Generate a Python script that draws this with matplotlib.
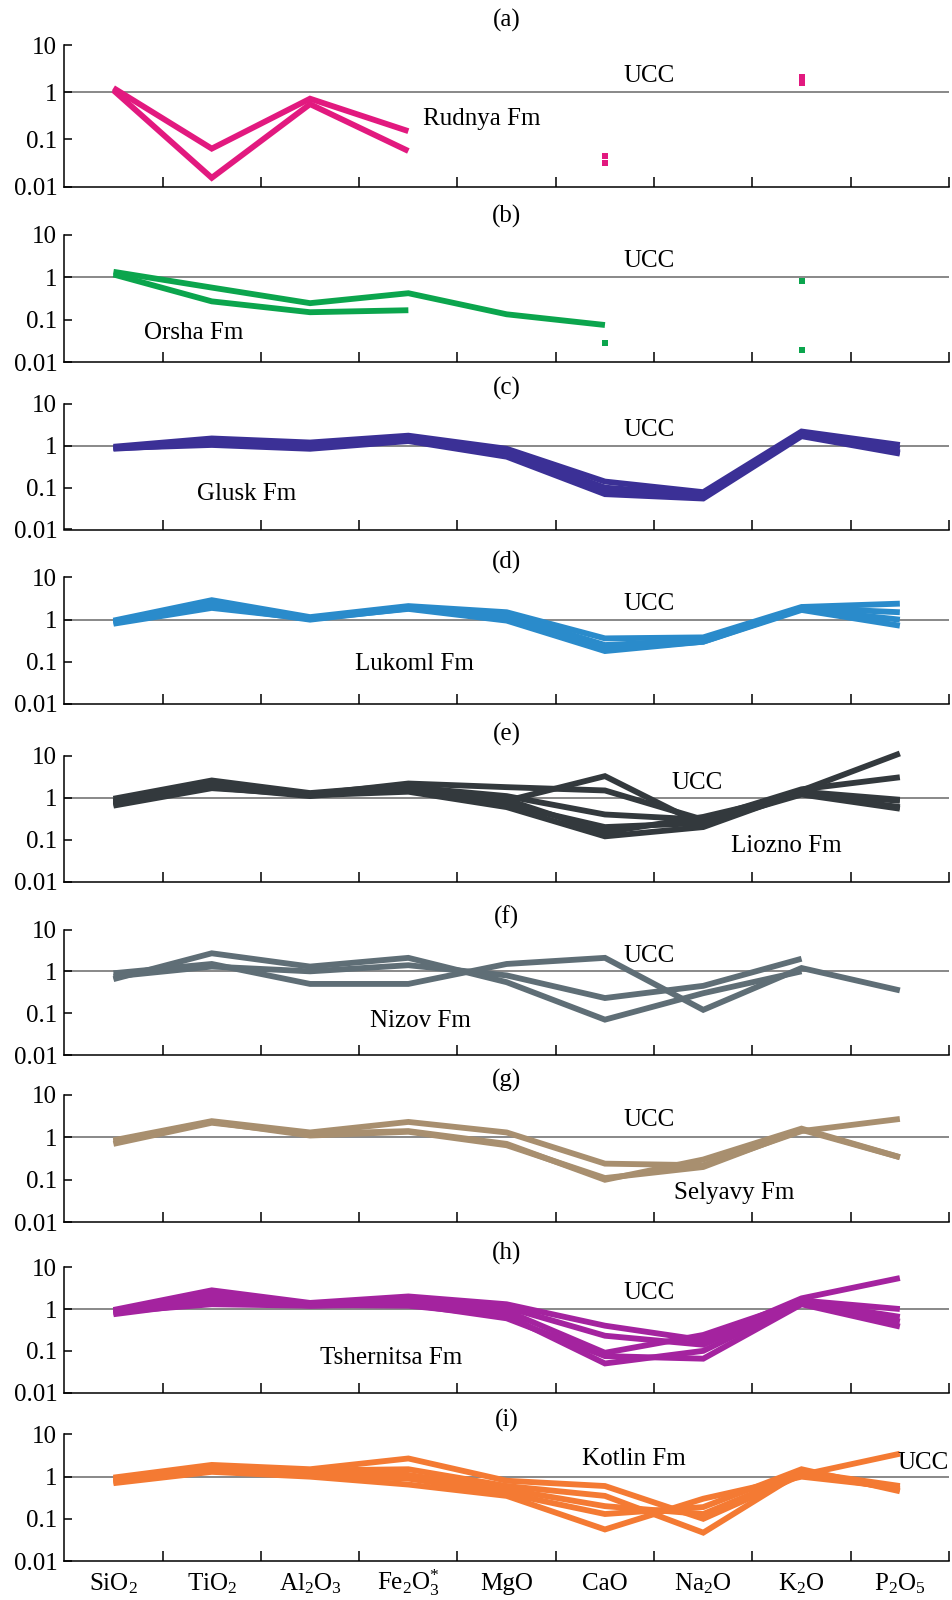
import numpy as np
import matplotlib
matplotlib.use("Agg")
import matplotlib.pyplot as plt

plt.rcParams['font.family'] = ['Liberation Serif', 'DejaVu Serif']
plt.rcParams['mathtext.fontset'] = 'custom'
plt.rcParams['mathtext.rm'] = 'Liberation Serif'
plt.rcParams['mathtext.it'] = 'Liberation Serif:italic'
plt.rcParams['mathtext.bf'] = 'Liberation Serif:bold'

nan = np.nan
categories = [r'SiO$_2$', r'TiO$_2$', r'Al$_2$O$_3$', r'Fe$_2$O$_3^{*}$', 'MgO', 'CaO',
              r'Na$_2$O', r'K$_2$O', r'P$_2$O$_5$']

panel_letters = ['(a)', '(b)', '(c)', '(d)', '(e)', '(f)', '(g)', '(h)', '(i)']
formations = ['Rudnya Fm', 'Orsha Fm', 'Glusk Fm', 'Lukoml Fm', 'Liozno Fm',
              'Nizov Fm', 'Selyavy Fm', 'Tshernitsa Fm', 'Kotlin Fm']
colors = ['#E2197F', '#0BA54D', '#3B3096', '#2A8BCB', '#33393D',
          '#5F6E76', '#A88F6F', '#A4239F', '#F47A33']

# ---- data (normalised to UCC) ----
rudnya = [[1.23, 0.064, 0.73, 0.15, nan, nan, nan, nan, nan],
          [1.10, 0.0154, 0.56, 0.057, nan, nan, nan, nan, nan]]
rudnya_pts_cao = [0.045, 0.031]
rudnya_pts_k2o = [2.15, 1.6]

orsha = [[1.34, 0.57, 0.245, 0.42, 0.134, 0.075, nan, nan, nan],
         [1.16, 0.27, 0.15, 0.167, nan, nan, nan, nan, nan]]
orsha_pts_cao = [0.029]
orsha_pts_k2o = [0.8, 0.019]

glusk = [[0.95, 1.5, 1.2, 1.75, 0.85, 0.14, 0.078, 2.2, 1.05],
         [0.90, 1.3, 1.05, 1.55, 0.72, 0.10, 0.068, 2.0, 0.85],
         [0.85, 1.15, 0.9, 1.4, 0.60, 0.08, 0.062, 1.8, 0.70],
         [0.88, 1.05, 0.85, 1.3, 0.55, 0.07, 0.055, 1.7, 0.65]]

lukoml = [[0.95, 2.9, 1.15, 2.1, 1.5, 0.36, 0.38, 2.0, 2.4],
          [0.90, 2.5, 1.05, 2.0, 1.3, 0.25, 0.33, 1.9, 1.5],
          [0.85, 2.1, 1.00, 1.85, 1.1, 0.20, 0.30, 1.8, 1.0],
          [0.80, 1.9, 1.05, 1.8, 0.95, 0.18, 0.30, 1.7, 0.72]]

liozno = [[0.95, 2.6, 1.3, 2.0, 0.85, 3.3, 0.22, 1.5, 11.5],
          [0.80, 2.2, 1.2, 2.2, 1.8, 1.5, 0.30, 1.6, 3.1],
          [0.70, 1.8, 1.1, 1.8, 1.1, 0.40, 0.30, 1.3, 0.85],
          [0.65, 1.7, 1.2, 1.5, 0.7, 0.20, 0.25, 1.2, 0.55],
          [0.85, 2.0, 1.15, 1.4, 0.6, 0.12, 0.20, 1.4, 0.9],
          [0.75, 1.9, 1.25, 1.6, 0.9, 0.15, 0.35, 1.25, 0.6]]

nizov = [[0.90, 1.5, 0.5, 0.5, 1.5, 2.1, 0.12, 1.2, 0.35],
         [0.65, 2.7, 1.3, 2.1, 0.55, 0.07, 0.30, 1.0, nan],
         [0.75, 1.3, 1.0, 1.4, 0.8, 0.23, 0.45, 2.0, nan]]

selyavy = [[0.85, 2.4, 1.3, 2.3, 1.3, 0.24, 0.22, 1.4, 2.7],
           [0.70, 2.2, 1.2, 1.4, 0.7, 0.10, 0.30, 1.6, 0.34],
           [0.80, 2.3, 1.1, 1.35, 0.65, 0.11, 0.20, 1.5, 0.34]]

tshernitsa = [[0.95, 2.8, 1.4, 2.0, 1.3, 0.40, 0.18, 1.8, 5.5],
              [0.90, 2.2, 1.3, 1.7, 1.1, 0.23, 0.14, 1.6, 1.0],
              [0.80, 1.8, 1.2, 1.4, 0.9, 0.09, 0.24, 1.5, 0.65],
              [0.75, 1.5, 1.25, 1.2, 0.7, 0.05, 0.10, 1.4, 0.5],
              [0.85, 1.3, 1.2, 1.3, 0.6, 0.075, 0.065, 1.3, 0.38]]

kotlin = [[0.95, 1.9, 1.5, 2.7, 0.8, 0.60, 0.10, 1.1, 3.5],
          [0.90, 1.7, 1.4, 1.5, 0.6, 0.35, 0.047, 1.3, 0.6],
          [0.80, 1.5, 1.2, 1.1, 0.5, 0.20, 0.13, 1.2, 0.5],
          [0.75, 1.4, 1.1, 0.9, 0.4, 0.13, 0.19, 1.5, 0.45],
          [0.70, 1.3, 1.0, 0.65, 0.35, 0.056, 0.30, 1.0, 0.55]]

all_lines = [rudnya, orsha, glusk, lukoml, liozno, nizov, selyavy, tshernitsa, kotlin]
points = {0: [(5, rudnya_pts_cao), (7, rudnya_pts_k2o)],
          1: [(5, orsha_pts_cao), (7, orsha_pts_k2o)]}

# label positions (data coords)
ucc_pos = [(5.95, 2.2), (5.95, 2.4), (5.95, 2.45), (5.95, 2.3), (6.44, 2.3),
           (5.95, 2.3), (5.95, 2.55), (5.95, 2.45), (8.74, 2.06)]
fm_pos = [(4.25, 0.27), (1.32, 0.048), (1.85, 0.071), (3.56, 0.09), (7.35, 0.07),
          (3.62, 0.064), (6.81, 0.048), (3.32, 0.068), (5.79, 2.57)]

# layout in a 953x1600 px figure
W, H = 953, 1600
ax_left, ax_right = 64.3, 949.0
extents = [(45, 186.7), (234.7, 362.2), (404, 529.5), (577.5, 704), (756, 881.5),
           (929.5, 1055), (1094.8, 1222.3), (1267.2, 1392.7), (1434.5, 1561)]
title_y = [20.4, 216.3, 388.8, 562.2, 734.7, 917.3, 1080.6, 1253.0, 1420.4]

FS = 18
fig = plt.figure(figsize=(W / 100, H / 100), dpi=100)
x = np.arange(len(categories)) + 0.5

for i in range(9):
    top, bot = extents[i]
    ax = fig.add_axes([ax_left / W, 1 - bot / H, (ax_right - ax_left) / W, (bot - top) / H])
    ax.set_yscale('log')
    ax.set_ylim(0.01, 10)
    ax.set_xlim(0, 9)
    ax.axhline(1, color='#7f7f7f', lw=1.3, zorder=1)
    for row in all_lines[i]:
        ax.plot(x, row, color=colors[i], lw=4.2, solid_capstyle='butt',
                solid_joinstyle='miter', zorder=3, clip_on=False)
    for idx, vals in points.get(i, []):
        ax.plot([x[idx]] * len(vals), vals, ls='none', marker='s', ms=4,
                color=colors[i], mew=0, zorder=3)
    ax.text(*ucc_pos[i], 'UCC', ha='center', va='center', fontsize=FS)
    ax.text(*fm_pos[i], formations[i], ha='center', va='center', fontsize=FS)
    fig.text((ax_left + ax_right) / 2 / W, 1 - title_y[i] / H, panel_letters[i],
             ha='center', va='center', fontsize=FS)

    for s in ['top', 'right']:
        ax.spines[s].set_visible(False)
    for s in ['left', 'bottom']:
        ax.spines[s].set_linewidth(1.1)
    ax.set_yticks([0.01, 0.1, 1, 10])
    ax.set_yticklabels(['0.01', '0.1', '1', '10'])
    ax.yaxis.set_minor_locator(matplotlib.ticker.NullLocator())
    ax.tick_params(axis='y', direction='in', length=6, width=1.1, labelsize=FS, pad=5)
    ax.set_xticks(np.arange(1, 10))
    ax.set_xticklabels([])
    ax.tick_params(axis='x', which='major', direction='in', length=7, width=1.1)
    if i == 8:
        ax.set_xticks(x, minor=True)
        ax.set_xticklabels(categories, minor=True, fontsize=FS)
        ax.tick_params(axis='x', which='minor', length=0, pad=21)
        for lab in ax.get_xticklabels(minor=True):
            lab.set_verticalalignment('baseline')
    else:
        ax.xaxis.set_minor_locator(matplotlib.ticker.NullLocator())

fig.savefig('out.png', dpi=100)
